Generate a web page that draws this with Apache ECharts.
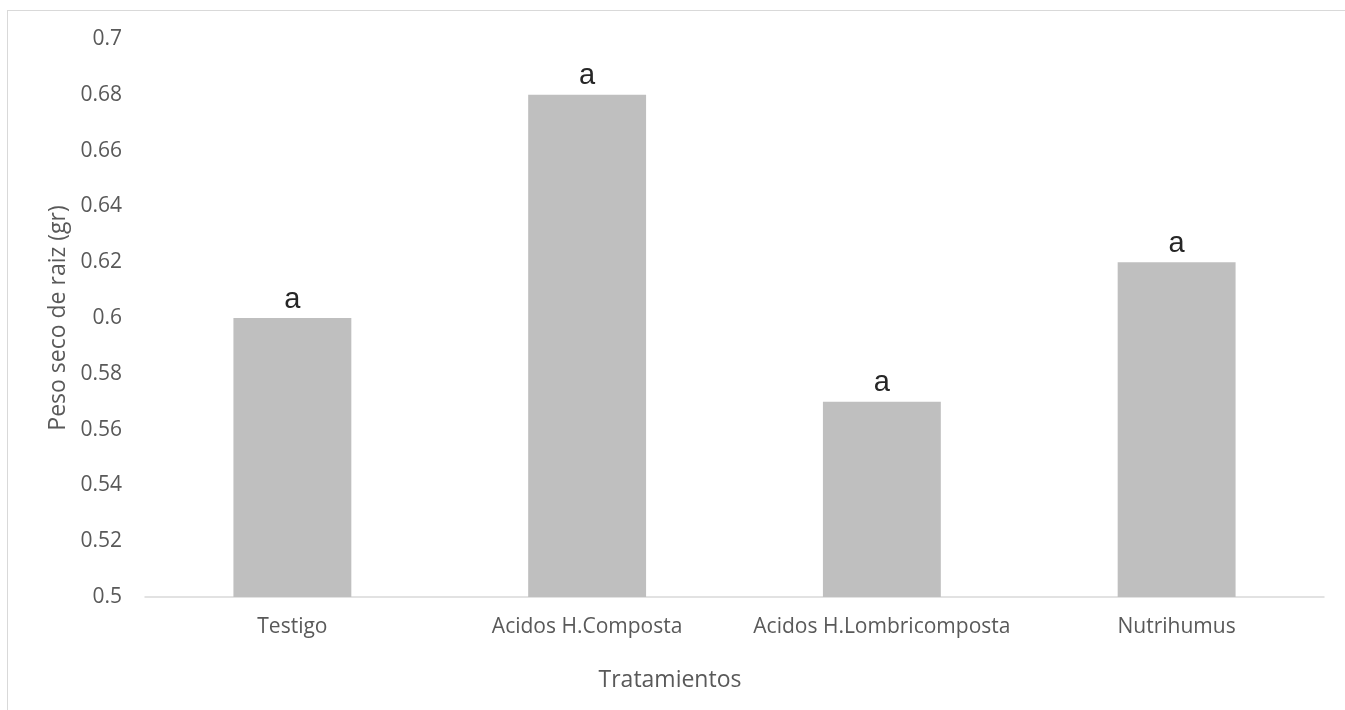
<!DOCTYPE html>
<html>
<head>
<meta charset="utf-8">
<script src="https://cdn.jsdelivr.net/npm/echarts@6/dist/echarts.min.js"></script>
<style>
  html, body { margin: 0; padding: 0; background: #fff; }
  #frame { position: absolute; left: 7px; top: 10px; width: 1345px; height: 710px;
           border: 1px solid #d9d9d9; box-sizing: border-box; }
  #chart { position: absolute; left: 0; top: 0; width: 1345px; height: 710px; }
</style>
</head>
<body>
<div id="frame"></div>
<div id="chart"></div>
<script>
// Tratamientos y peso seco de raíz (gr)
const categories = ['Testigo', 'Acidos H.Composta', 'Acidos H.Lombricomposta', 'Nutrihumus'];
const values = [0.60, 0.68, 0.57, 0.62];
const letters = ['a', 'a', 'a', 'a'];
const yTicks = { min: 0.5, max: 0.7, step: 0.02 };

const font = '"Open Sans", "Noto Sans", sans-serif';
const chart = echarts.init(document.getElementById('chart'), null, { renderer: 'canvas' });

chart.setOption({
  backgroundColor: 'transparent',
  animation: false,
  grid: { left: 145, right: 21, top: 39, bottom: 113, containLabel: false },
  xAxis: {
    type: 'category',
    data: categories,
    axisLine: { show: true, lineStyle: { color: '#d9d9d9', width: 1.5 } },
    axisTick: { show: false },
    axisLabel: { color: '#595959', fontSize: 21, fontFamily: font, margin: 20, interval: 0, hideOverlap: false }
  },
  yAxis: {
    type: 'value',
    min: yTicks.min,
    max: yTicks.max,
    interval: yTicks.step,
    name: 'Peso seco de raiz (gr)',
    nameLocation: 'middle',
    nameGap: 73,
    nameTextStyle: { color: '#595959', fontSize: 23, fontFamily: font },
    axisLine: { show: false },
    axisTick: { show: false },
    splitLine: { show: false },
    axisLabel: {
      color: '#595959', fontSize: 21, fontFamily: font, margin: 23,
      formatter: v => String(parseFloat(v.toFixed(2)))
    }
  },
  graphic: [{
    type: 'text',
    x: 670,
    y: 680,
    style: {
      text: 'Tratamientos', fill: '#595959', font: '23px ' + font,
      textAlign: 'center', textVerticalAlign: 'middle'
    }
  }],
  series: [{
    type: 'bar',
    data: values,
    barWidth: '40%',
    itemStyle: { color: '#bfbfbf' },
    label: {
      show: true,
      position: 'top',
      distance: 4,
      color: '#262626',
      fontSize: 29,
      fontFamily: '"Liberation Sans", Arial, sans-serif',
      formatter: p => letters[p.dataIndex]
    }
  }]
});
</script>
</body>
</html>
